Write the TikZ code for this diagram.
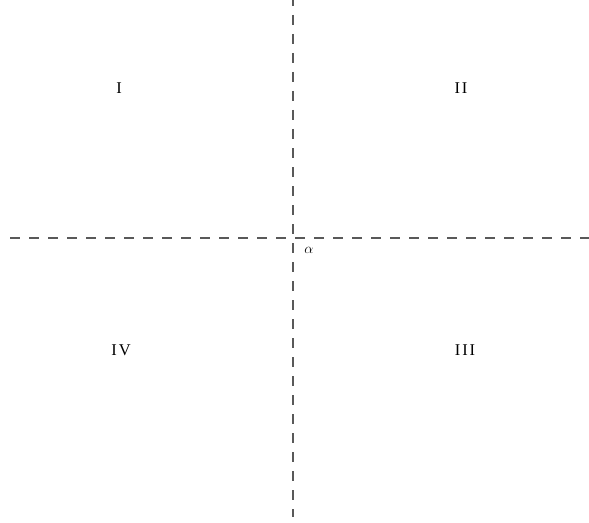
\documentclass[tikz,border=0pt]{standalone}
\usepackage{amsmath}
\usepackage{fontspec}
\newfontfamily\quadfont[LetterSpace=12]{Liberation Serif}
\usepackage{tikz}
\usetikzlibrary{positioning}

\begin{document}
\begin{tikzpicture}[x=1bp, y=-1bp, axis/.style={dash pattern=on 10bp off 9bp, line width=1.1bp, black!65}, quad/.style={font=\quadfont\fontsize{16.5}{18}\selectfont, inner sep=0pt}]
    \useasboundingbox (0,0) rectangle (589,523);
    \coordinate (top) at (293,-4);
    \coordinate (bottom) at (293,517);
    \coordinate (left) at (10,238);
    \coordinate (right) at (589,238);
    \draw[axis] (top) -- (bottom);
    \draw[axis] (left) -- (right);
    \node[quad] (q1) at (119,88) {I};
    \node[quad] (q2) at (461,88) {II};
    \node[quad] (q3) at (465,350) {III};
    \node[quad] (q4) at (121,350) {IV};
    \node[font=\fontsize{14}{16}\selectfont, inner sep=0pt] (ang) at (309,250) {$\alpha$};
\end{tikzpicture}
\end{document}
